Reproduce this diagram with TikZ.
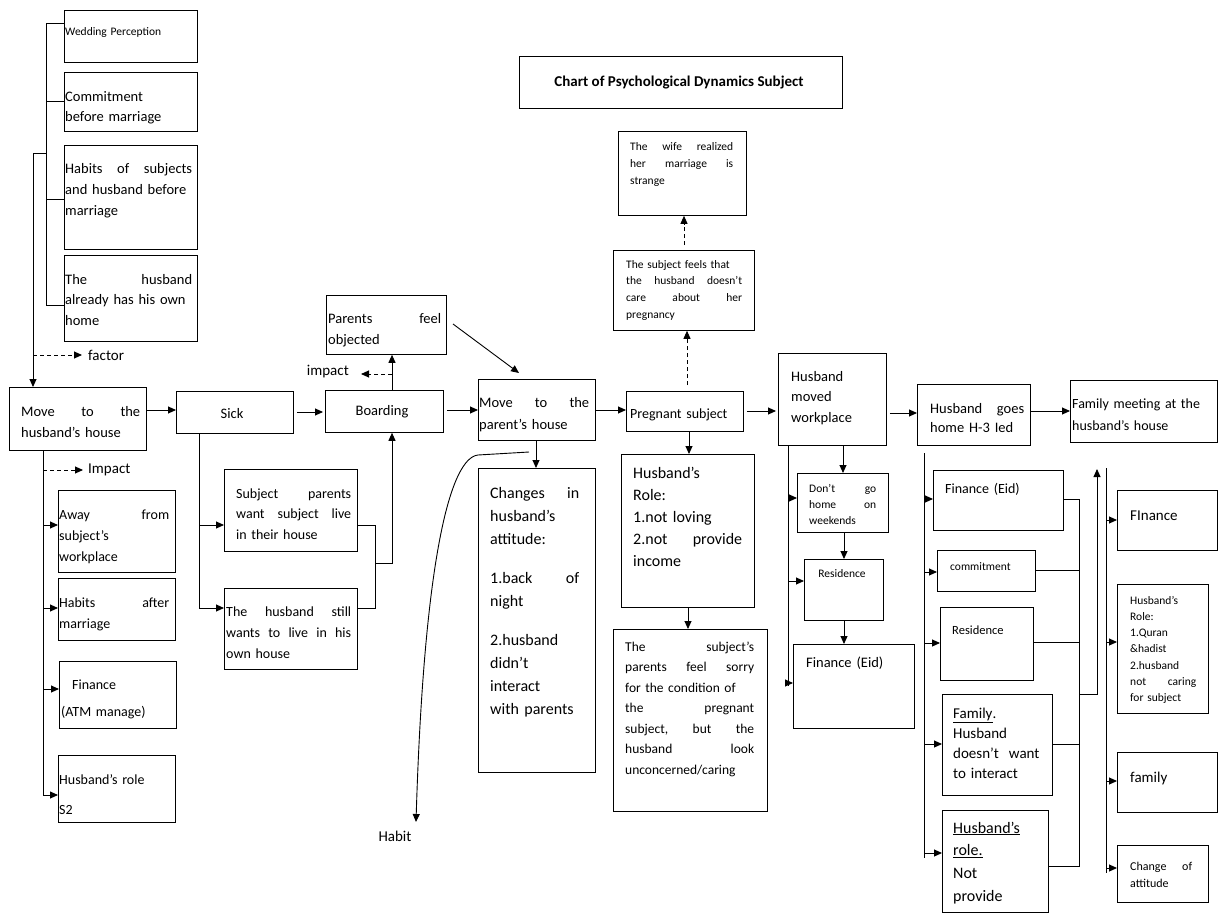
\documentclass[tikz,border=0pt]{standalone}
\usepackage{fontspec}
\setmainfont{Carlito}
\usetikzlibrary{arrows.meta, calc}
\newcommand{\fsz}[2]{\fontsize{#1}{#2}\selectfont}
% box from (x1,y1) to (x2,y2), in pixels
\newcommand{\bx}[5]{\node[box, minimum width={#4-#2}, minimum height={#5-#3}] (#1) at (#2,#3) {};}

\begin{document}
\begin{tikzpicture}[x=1pt, y=-1pt,
  box/.style={draw, line width=0.8pt, anchor=north west, inner sep=0pt},
  txt/.style={anchor=base west, inner sep=0pt, align=left, text width=150},
  lbl/.style={inner sep=0pt, font=\fsz{15}{18}},
  arr/.style={line width=0.9pt, -{Triangle[length=8pt,width=7pt]}},
  darr/.style={arr, dash pattern=on 4pt off 3pt},
  ln/.style={line width=0.8pt}]
\useasboundingbox (0,0) rectangle (1218,913);

% title
\bx{title}{519}{56}{842}{108}
\node[inner sep=0pt, font=\bfseries\fsz{15}{18}] (title-t) at (679,83) {Chart of Psychological Dynamics Subject};

% factors
\bx{wed}{64}{10}{197}{62}
\node[txt, font=\fsz{11.5}{15}] (wed-t) at (65,35) {Wedding Perception};
\bx{comm}{64}{72}{197}{131}
\node[txt, font=\fsz{14.5}{20}] (comm-t) at (65,101) {Commitment\\ before marriage};
\bx{habb}{64}{145}{197}{249}
\node[txt, text width=127, font=\fsz{14.5}{21}] (habb-t) at (65,173) {Habits\hfill of\hfill subjects\\ and husband before\\ marriage};
\bx{own}{64}{255}{197}{341}
\node[txt, text width=127, font=\fsz{14.5}{20.5}] (own-t) at (65,284) {The\hfill husband\\ already has his own\\ home};
\draw[ln] (wed.west |- 0,23) -| (46,305) -- (own.west |- 0,305);
\draw[ln] (46,101) -- (comm.west |- 0,101);
\draw[ln] (46,199) -- (habb.west |- 0,199);
\draw[ln] (46,153) -- (33,153);
\draw[darr] (33,355) -- (82,355);
\node[lbl, anchor=west] (factor) at (88,355) {factor};

% main line
\bx{mvh}{9}{387}{146}{450}
\node[txt, text width=119, font=\fsz{14.5}{21}] (mvh-t) at (21,416) {Move\hfill to\hfill the\\ husband’s house};
\draw[arr] (33,153) -- (mvh.north -| 33,0);
\bx{sick}{176}{391}{293}{433}
\node[inner sep=0pt, font=\fsz{14.5}{18}] (sick-t) at (232,414) {Sick};
\bx{board}{325}{390}{443}{432}
\node[inner sep=0pt, font=\fsz{14.5}{18}] (board-t) at (382,412) {Boarding};
\bx{pobj}{326}{295}{446}{354}
\node[txt, text width=113, font=\fsz{14.5}{21}] (pobj-t) at (328,323) {Parents\hfill feel\\ objected};
\bx{mvp}{478}{379}{595}{440}
\node[txt, text width=110, font=\fsz{14.5}{22}] (mvp-t) at (479,407) {Move\hfill to\hfill the\\ parent’s house};
\bx{chg}{478}{468}{595}{772}
\node[txt, text width=89, font=\fsz{16}{23}] (chg-t) at (490,498) {Changes\hfill in\\ husband’s\\ attitude:\\[16pt] 1.back\hfill of\\ night\\[16pt] 2.husband\\ didn’t\\ interact\\ with parents};
\bx{preg}{626}{391}{743}{431}
\node[txt, font=\fsz{14}{18}] (preg-t) at (630,418) {Pregnant subject};
\bx{feel}{613}{250}{754}{330}
\node[txt, text width=116, font=\fsz{11.5}{16.7}] (feel-t) at (626,268) {The subject feels that\\ the\hfill husband\hfill doesn’t\\ care\hfill about\hfill her\\ pregnancy};
\bx{wife}{618}{131}{746}{215}
\node[txt, text width=103, font=\fsz{11.5}{17}] (wife-t) at (630,150) {The\hfill wife\hfill realized\\ her\hfill marriage\hfill is\\ strange};
\bx{role}{621}{454}{754}{607}
\node[txt, text width=109, font=\fsz{16}{22}] (role-t) at (633,478) {Husband’s\\ Role:\\ 1.not loving\\ 2.not\hfill provide\\ income};
\bx{sorry}{613}{629}{767}{811}
\node[txt, text width=129, font=\fsz{13.5}{20.5}] (sorry-t) at (625,651) {The\hfill subject’s\\ parents\hfill feel\hfill sorry\\ for the condition of\\ the\hfill pregnant\\ subject,\hfill but\hfill the\\ husband\hfill look\\ unconcerned/caring};
\bx{hmov}{778}{353}{886}{445}
\node[txt, font=\fsz{14.5}{20.5}] (hmov-t) at (791,381) {Husband\\ moved\\ workplace};
\bx{dont}{797}{473}{888}{532}
\node[txt, text width=67, font=\fsz{11.5}{16}] (dont-t) at (809,492) {Don’t\hfill go\\ home\hfill on\\ weekends};
\bx{res}{804}{559}{883}{620}
\node[inner sep=0pt, font=\fsz{11.5}{14}] (res-t) at (842,574) {Residence};
\bx{fin}{793}{644}{914}{728}
\node[txt, font=\fsz{14.5}{18}] (fin-t) at (806,667) {Finance (Eid)};
\bx{hgo}{917}{384}{1030}{445}
\node[txt, text width=94, font=\fsz{14.5}{19.5}] (hgo-t) at (930,413) {Husband\hfill goes\\ home H-3 Ied};
\bx{fmeet}{1070}{380}{1217}{442}
\node[txt, font=\fsz{14}{22}] (fmeet-t) at (1072,408) {Family meeting at the\\ husband’s house};

% after husband goes home
\bx{fin2}{933}{470}{1063}{530}
\node[txt, font=\fsz{14}{18}] (fin2-t) at (945,493) {Finance (Eid)};
\bx{comm2}{937}{550}{1035}{591}
\node[txt, font=\fsz{11.5}{14}] (comm2-t) at (950,570) {commitment};
\bx{res2}{940}{607}{1033}{680}
\node[txt, font=\fsz{12.5}{15}] (res2-t) at (952,634) {Residence};
\bx{fam}{942}{694}{1052}{795}
\node[txt, font=\fsz{15}{20.3}] (fam-t) at (953,718) {\underline{Family}.\\ Husband\\ doesn’t\ \ want\\ to interact};
\bx{role3}{942}{810}{1048}{911.5}
\node[txt, font=\fsz{16}{22.7}] (role3-t) at (953,833) {\underline{Husband’s}\\ \underline{role.}\\ Not\\ provide};

% after family meeting
\bx{fin3}{1117}{490}{1217}{550}
\node[txt, font=\fsz{15}{18}] (fin3-t) at (1130,520) {FInance};
\bx{role2}{1117}{584}{1208}{713}
\node[txt, text width=66, font=\fsz{11.5}{16.3}] (role2-t) at (1130,604) {Husband’s\\ Role:\\ 1.Quran\\ \&hadist\\ 2.husband\\ not\hfill caring\\ for subject};
\bx{fam2}{1117}{752}{1217}{812}
\node[txt, font=\fsz{15}{18}] (fam2-t) at (1130,782) {family};
\bx{chat}{1117}{845}{1208}{902}
\node[txt, text width=62, font=\fsz{12}{17}] (chat-t) at (1130,870) {Change\hfill of\\ attitude};

% impacts of moving to the husband's house
\bx{away}{58}{490}{175}{572}
\node[txt, text width=110, font=\fsz{14}{21}] (away-t) at (59,519) {Away\hfill from\\ subject’s\\ workplace};
\bx{haba}{58}{578}{175}{640}
\node[txt, text width=110, font=\fsz{14}{21}] (haba-t) at (59,607) {Habits\hfill after\\ marriage};
\bx{atm}{59}{661}{176}{728}
\node[txt, font=\fsz{14}{27}] (atm-t) at (61,689) {\hspace*{11pt}Finance\\ (ATM manage)};
\bx{s2}{58}{755}{175}{822}
\node[txt, font=\fsz{14}{30}] (s2-t) at (59,784) {Husband’s role\\ S2};
\draw[arr] (mvh.south -| 43,0) |- (s2.west |- 0,795);
\draw[darr] (43,470) -- (83,470);
\node[lbl, anchor=west] (imp1) at (88,470) {Impact};
\foreach \y/\b in {525/away, 608/haba, 689/atm}
  \draw[arr] (43,\y) -- (\b.west |- 0,\y);

% sick
\bx{spar}{224}{469}{357}{551}
\node[txt, text width=115, font=\fsz{14}{20.5}] (spar-t) at (236,498) {Subject\hfill parents\\ want\hfill subject\hfill live\\ in their house};
\bx{hstill}{224}{588}{357}{669}
\node[txt, text width=125, font=\fsz{14}{21}] (hstill-t) at (226,616) {The\hfill husband\hfill still\\ wants\hfill to\hfill live\hfill in\hfill his\\ own house};
\draw[arr] (sick.south -| 199,0) |- (hstill.west |- 0,608);
\draw[arr] (199,525) -- (spar.west |- 0,525);
\draw[ln] (spar.east |- 0,525) -| (375,608) -- (hstill.east |- 0,608);
\draw[arr] (375,563) -| (board.south -| 392,0);

% main arrows
\draw[arr] (mvh.east |- 0,410) -- (sick.west |- 0,410);
\draw[arr, shorten <=3pt, shorten >=2pt] (sick.east |- 0,412) -- (board.west |- 0,412);
\draw[arr, shorten <=3pt] (board.east |- 0,410) -- (mvp.west |- 0,410);
\draw[arr] (mvp.east |- 0,410) -- (preg.west |- 0,410);
\draw[arr, shorten <=3pt, shorten >=2pt] (preg.east |- 0,411) -- (hmov.west |- 0,411);
\draw[arr, shorten <=3pt] (hmov.east |- 0,413) -- (hgo.west |- 0,413);
\draw[arr] (hgo.east |- 0,411) -- (fmeet.west |- 0,411);

% boarding
\draw[arr] (board.north -| 392,0) -- (pobj.south -| 392,0);
\draw[darr] (392,374) -- (361,374);
\node[lbl, anchor=east] (imp2) at (349,372) {impact};
\coordinate (dg1) at (453,324);
\coordinate (dg2) at (519,373);
\draw[arr] (dg1) -- (dg2);

% parent's house
\draw[arr] (mvp.south -| 536,0) -- (chg.north -| 536,0);
\coordinate (hb1) at (529,452);
\coordinate (hb2) at (416,822);
\draw[arr] (hb1) -- (478,455) .. controls (450,458) and (424,560) .. (hb2);
\node[lbl] (habit) at (395,836) {Habit};

% pregnant
\draw[darr] (687,385) -- (feel.south -| 687,0);
\draw[darr] (684,245) -- (wife.south -| 684,0);
\draw[arr] (preg.south -| 689,0) -- (role.north -| 689,0);
\draw[arr] (role.south -| 688,0) -- (sorry.north -| 688,0);

% husband moved workplace
\draw[arr] (hmov.south -| 843,0) -- (dont.north -| 843,0);
\draw[arr] (dont.south -| 844,0) -- (res.north -| 844,0);
\draw[arr] (res.south -| 844,0) -- (fin.north -| 844,0);
\draw[ln] (hmov.south -| 788,0) -- (788,686);
\foreach \y/\b in {498/dont, 581/res, 683/fin}
  \draw[arr] (788,\y) -- (\b.west |- 0,\y);

% husband goes home
\draw[ln] (924,453) -- (924,858);
\foreach \y/\b in {499/fin2, 572/comm2, 643/res2, 744/fam, 853/role3}
  \draw[arr] (924,\y) -- (\b.west |- 0,\y);
\draw[ln] (fin2.east |- 0,499) -| (1079,866) -- (role3.east |- 0,866);
\foreach \y/\b in {570/comm2, 642/res2, 744/fam}
  \draw[ln] (\b.east |- 0,\y) -- (1079,\y);
\draw[arr] (1079,694) -| (1097,469);

% family meeting
\draw[ln] (1106,468) -- (1106,873);
\foreach \y/\b in {520/fin3, 642/role2, 781/fam2, 868/chat}
  \draw[arr] (1106,\y) -- (\b.west |- 0,\y);

\end{tikzpicture}
\end{document}
